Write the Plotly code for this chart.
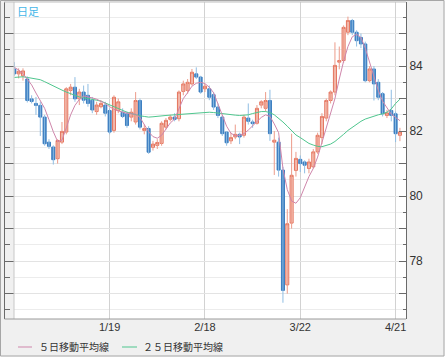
import plotly.graph_objects as go
import pandas as pd

# ---- data (USD/JPY daily) ----
dates = [d.strftime("%Y-%m-%d") for d in pd.bdate_range("2010-12-20", "2011-04-22")]

open_ = [83.91, 83.76, 83.70, 83.60, 82.99, 82.85, 82.79, 82.43, 81.66, 81.51,
         81.15, 81.66, 81.97, 83.25, 83.35, 82.99, 83.20, 83.10, 82.95, 82.60,
         82.75, 82.80, 82.63, 82.02, 82.63, 82.58, 82.53, 82.43, 82.28, 82.94,
         82.02, 82.08, 81.50, 81.56, 81.62, 82.12, 82.36, 82.43, 82.38, 83.22,
         83.25, 83.45, 83.76, 83.66, 83.30, 83.30, 83.12, 82.74, 82.43, 81.97,
         81.70, 81.82, 81.90, 81.87, 82.40, 82.28, 82.24, 82.80, 82.70, 82.94,
         81.66, 81.66, 80.80, 77.27, 79.17, 80.79, 81.13, 81.05, 80.85, 80.90,
         81.36, 81.80, 82.40, 82.94, 83.20, 84.12, 84.17, 85.04, 85.40, 85.04,
         84.88, 84.68, 83.55, 83.91, 83.50, 83.15, 82.48, 82.63, 82.53, 81.87]
high = [84.12, 83.93, 83.93, 83.68, 83.10, 83.05, 82.90, 82.50, 81.75, 81.56,
        81.75, 82.28, 83.35, 83.45, 83.66, 83.30, 83.40, 83.45, 83.05, 82.90,
        82.95, 82.90, 82.70, 83.10, 83.00, 82.70, 82.60, 82.70, 83.20, 83.00,
        82.20, 82.15, 81.70, 81.75, 82.30, 82.40, 82.50, 82.55, 83.25, 83.55,
        83.60, 83.91, 83.96, 83.70, 83.45, 83.40, 83.20, 82.85, 82.50, 82.00,
        81.95, 82.20, 81.95, 82.50, 82.85, 82.35, 82.80, 82.95, 83.20, 83.27,
        82.00, 81.80, 80.90, 79.60, 81.92, 81.36, 81.25, 81.10, 81.15, 81.45,
        81.95, 82.55, 83.00, 83.25, 84.73, 84.60, 85.25, 85.52, 85.45, 85.10,
        85.00, 84.75, 84.00, 84.00, 83.60, 83.20, 82.65, 83.27, 82.60, 82.10]
low = [83.70, 83.62, 83.55, 82.88, 82.85, 82.50, 81.85, 81.55, 81.45, 80.97,
       81.00, 81.60, 81.90, 83.10, 82.90, 82.80, 82.85, 82.75, 82.55, 82.50,
       82.70, 82.45, 81.90, 81.95, 82.55, 82.40, 82.10, 82.30, 82.20, 82.05,
       81.90, 81.30, 81.40, 81.45, 81.55, 82.05, 82.30, 82.30, 82.30, 83.10,
       83.15, 83.40, 83.60, 83.15, 83.20, 82.95, 82.65, 82.40, 81.85, 81.55,
       81.60, 81.75, 81.60, 81.80, 82.20, 82.10, 82.20, 82.70, 82.60, 81.70,
       80.65, 80.60, 76.72, 77.00, 79.00, 80.60, 80.74, 80.70, 80.70, 80.85,
       81.30, 81.60, 82.30, 82.85, 83.10, 83.90, 84.10, 84.95, 84.95, 84.60,
       84.55, 83.50, 83.50, 82.94, 82.95, 82.45, 82.40, 82.30, 81.66, 81.69]
close = [83.76, 83.84, 83.85, 82.94, 82.91, 82.79, 82.43, 81.61, 81.53, 81.12,
         81.71, 81.99, 83.30, 83.35, 82.99, 83.20, 82.95, 82.85, 82.65, 82.80,
         82.85, 82.55, 81.97, 83.04, 82.90, 82.45, 82.17, 82.58, 82.94, 82.12,
         82.08, 81.35, 81.60, 81.65, 82.24, 82.33, 82.43, 82.36, 83.20, 83.45,
         83.50, 83.81, 83.66, 83.20, 83.38, 83.04, 82.74, 82.48, 81.92, 81.64,
         81.80, 81.90, 81.82, 82.43, 82.30, 82.23, 82.70, 82.90, 82.94, 81.92,
         81.72, 80.80, 77.10, 79.15, 80.64, 81.16, 81.00, 80.95, 81.05, 81.36,
         81.87, 82.45, 82.94, 83.20, 84.02, 84.17, 85.19, 85.40, 85.04, 84.78,
         84.68, 83.55, 83.91, 83.45, 83.04, 82.53, 82.56, 82.48, 81.92, 81.97]
ma5 = [83.96, 83.88, 83.77, 83.60, 83.42, 83.17, 82.93, 82.70, 82.35, 81.98,
       81.68, 81.72, 82.10, 82.50, 82.79, 82.97, 83.08, 83.06, 83.02, 82.98,
       82.92, 82.85, 82.75, 82.67, 82.62, 82.58, 82.55, 82.53, 82.52, 82.42,
       82.20, 81.98, 81.83, 81.78, 81.87, 82.08, 82.25, 82.37, 82.70, 83.00,
       83.18, 83.38, 83.47, 83.50, 83.46, 83.35, 83.18, 82.82, 82.45, 82.15,
       81.93, 81.86, 81.87, 81.92, 82.03, 82.15, 82.30, 82.42, 82.50, 82.45,
       82.22, 81.95, 80.85, 80.20, 79.85, 79.78, 79.95, 80.30, 80.60, 80.85,
       81.20, 81.65, 82.10, 82.55, 83.00, 83.60, 84.15, 84.60, 84.90, 84.98,
       84.88, 84.55, 84.10, 83.65, 83.25, 82.92, 82.70, 82.52, 82.42, 82.32]
ma25 = [83.65, 83.67, 83.67, 83.65, 83.62, 83.60, 83.58, 83.52, 83.45, 83.38,
        83.32, 83.26, 83.20, 83.14, 83.10, 83.05, 83.03, 83.00, 82.97, 82.95,
        82.92, 82.86, 82.80, 82.74, 82.68, 82.62, 82.58, 82.54, 82.50, 82.47,
        82.45, 82.43, 82.44, 82.46, 82.47, 82.48, 82.49, 82.50, 82.51, 82.53,
        82.55, 82.56, 82.57, 82.58, 82.58, 82.58, 82.57, 82.55, 82.53, 82.51,
        82.50, 82.49, 82.48, 82.48, 82.50, 82.54, 82.58, 82.60, 82.60, 82.57,
        82.50, 82.40, 82.28, 82.15, 82.00, 81.88, 81.80, 81.70, 81.62, 81.57,
        81.53, 81.52, 81.55, 81.60, 81.68, 81.78, 81.90, 82.02, 82.12, 82.22,
        82.30, 82.37, 82.42, 82.46, 82.50, 82.53, 82.58, 82.68, 82.85, 82.98]

tick_dates = ["2011-01-19", "2011-02-18", "2011-03-22", "2011-04-21"]
tick_text = ["1/19", "2/18", "3/22", "4/21"]
y_major = [77, 78, 79, 80, 81, 82, 83, 84, 85]
y_major_text = ["", "78", "", "80", "", "82", "", "84", ""]
legend_names = ["５日移動平均線", "２５日移動平均線"]
title_text = "日足"

# ---- colours / geometry ----
UP_LINE, UP_FILL, UP_WICK = "#e4735c", "#f8d2c8", "#ec9b8a"
DN_LINE, DN_FILL, DN_WICK = "#3a7dc0", "#3a7dc0", "#8fbde3"
MA5_C, MA25_C = "#cf86ab", "#4fc68e"

W, H = 448, 362
ML, MR, MT, MB = 4, 42, 2, 43
PW, PH = W - ML - MR, H - MT - MB


def px(x):
    return (x - ML) / PW


def py(y):
    return (H - MB - y) / PH


# wick segments built from the data
up_x, up_y, dn_x, dn_y = [], [], [], []
for d, o, h, l, c in zip(dates, open_, high, low, close):
    if c >= o:
        up_x += [d, d, None]
        up_y += [l, h, None]
    else:
        dn_x += [d, d, None]
        dn_y += [l, h, None]

body_hi = [max(o, c) for o, c in zip(open_, close)]
body_lo = [min(o, c) for o, c in zip(open_, close)]

fig = go.Figure()
fig.add_trace(go.Scatter(x=up_x, y=up_y, mode="lines", line=dict(color=UP_WICK, width=1),
                         hoverinfo="skip", showlegend=False, connectgaps=False))
fig.add_trace(go.Scatter(x=dn_x, y=dn_y, mode="lines", line=dict(color=DN_WICK, width=1),
                         hoverinfo="skip", showlegend=False, connectgaps=False))
fig.add_trace(go.Candlestick(
    x=dates, open=open_, high=body_hi, low=body_lo, close=close,
    increasing=dict(line=dict(color=UP_LINE, width=1), fillcolor=UP_FILL),
    decreasing=dict(line=dict(color=DN_LINE, width=1), fillcolor=DN_FILL),
    whiskerwidth=0, showlegend=False))
fig.add_trace(go.Scatter(x=dates, y=ma25, mode="lines", line=dict(color=MA25_C, width=1),
                         name=legend_names[1], showlegend=False))
fig.add_trace(go.Scatter(x=dates, y=ma5, mode="lines", line=dict(color=MA5_C, width=1),
                         name=legend_names[0], showlegend=False))
# dummy trace so the left (unlabelled) axis is drawn
fig.add_trace(go.Scatter(x=[dates[0]], y=[None], yaxis="y2", showlegend=False, hoverinfo="skip"))

yrange = [76.22, 85.97]
axis_col = "#6a6a6a"

fig.update_layout(
    width=W, height=H,
    margin=dict(l=ML, r=MR, t=MT, b=MB, pad=0),
    paper_bgcolor="#f0f0f0", plot_bgcolor="#ffffff",
    boxgap=0.3, boxgroupgap=0,
    showlegend=False,
    font=dict(family="Liberation Sans, Arial, sans-serif", size=11, color="#333333"),
    xaxis=dict(type="category", categoryorder="array", categoryarray=dates,
               range=[-0.07, 90.4], domain=[10 / PW, 1],
               tickmode="array", tickvals=tick_dates, ticktext=tick_text,
               showgrid=True, gridcolor="#d2d2d2", gridwidth=1,
               ticks="", showline=False, zeroline=False,
               rangeslider=dict(visible=False),
               tickfont=dict(size=11, color="#333333")),
    yaxis=dict(side="right", range=yrange, tickmode="array", tickvals=y_major,
               ticktext=y_major_text, ticks="inside", ticklen=7, tickcolor=axis_col,
               showline=True, linecolor=axis_col, linewidth=1,
               showgrid=True, gridcolor="#e3e3e3", zeroline=False,
               minor=dict(dtick=0.5, tick0=0, ticks="inside", ticklen=3,
                          tickcolor=axis_col, showgrid=True, gridcolor="#ececec"),
               tickfont=dict(size=12, color="#333333")),
    yaxis2=dict(overlaying="y", anchor="free", position=0, side="left",
                range=yrange, tickmode="array", tickvals=y_major,
                ticks="inside", ticklen=9, tickcolor=axis_col,
                showticklabels=False, showgrid=False, zeroline=False,
                showline=True, linecolor=axis_col, linewidth=1,
                minor=dict(dtick=0.5, tick0=0, ticks="inside", ticklen=5,
                           tickcolor=axis_col, showgrid=False)),
)

shapes = [
    # plot left and top borders
    dict(type="line", xref="x domain", yref="paper", x0=0, x1=0, y0=0, y1=1,
         line=dict(color="#c8c8c8", width=1)),
    dict(type="line", xref="paper", yref="paper", x0=px(4), x1=1, y0=1, y1=1,
         line=dict(color="#c0c0c0", width=1)),
    # bottom axis line
    dict(type="line", xref="paper", yref="paper", x0=px(4.5), x1=1, y0=0, y1=0,
         line=dict(color="#9a9a9a", width=1)),
    # white outside the panel
    dict(type="rect", xref="paper", yref="paper", x0=px(444.5), x1=px(450),
         y0=py(364), y1=py(-2), fillcolor="#ffffff", line=dict(width=0)),
    dict(type="rect", xref="paper", yref="paper", x0=px(-2), x1=px(450),
         y0=py(364), y1=py(356.5), fillcolor="#ffffff", line=dict(width=0)),
    # panel border
    dict(type="rect", xref="paper", yref="paper", x0=px(0.5), x1=px(444),
         y0=py(356), y1=py(0.5), line=dict(color="#a6a6a6", width=1)),
    # legend samples
    dict(type="line", xref="paper", yref="paper", x0=px(18), x1=px(32),
         y0=py(347), y1=py(347), line=dict(color=MA5_C, width=1)),
    dict(type="line", xref="paper", yref="paper", x0=px(122), x1=px(137),
         y0=py(347), y1=py(347), line=dict(color=MA25_C, width=1)),
]
fig.update_layout(shapes=shapes)

cjk = "Noto Sans CJK JP, sans-serif"
fig.add_annotation(x=px(37), y=py(347), xref="paper", yref="paper", text=legend_names[0],
                   showarrow=False, xanchor="left", yanchor="middle",
                   font=dict(family=cjk, size=10, color="#333333"))
fig.add_annotation(x=px(141), y=py(347), xref="paper", yref="paper", text=legend_names[1],
                   showarrow=False, xanchor="left", yanchor="middle",
                   font=dict(family=cjk, size=10, color="#333333"))
fig.add_annotation(x=px(15), y=py(11), xref="paper", yref="paper", text=title_text,
                   showarrow=False, xanchor="left", yanchor="middle",
                   font=dict(family=cjk, size=11, color="#45b6e8"))

fig.write_html("out.html")
